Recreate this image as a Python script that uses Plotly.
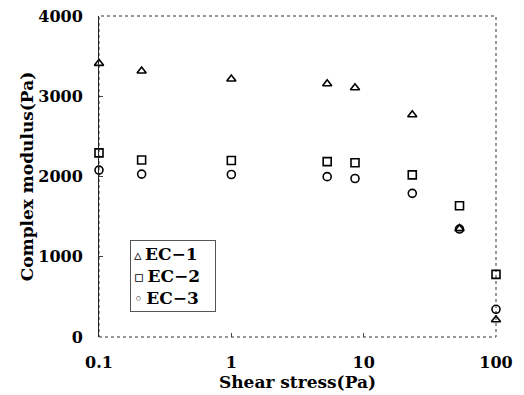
import plotly.graph_objects as go

shear_stress = [0.1, 0.21, 1.0, 5.3, 8.6, 23.3, 53, 100]
ec1 = [3410, 3315, 3215, 3155, 3105, 2770, 1350, 215]
ec2 = [2295, 2205, 2200, 2185, 2172, 2020, 1635, 780]
ec3 = [2080, 2030, 2025, 1998, 1975, 1790, 1345, 345]

series = [("EC\u22121", ec1, "triangle-up-open", "\u25B5"),
          ("EC\u22122", ec2, "square-open", "\u25AB"),
          ("EC\u22123", ec3, "circle-open", "\u25E6")]

FONT = "DejaVu Serif"

fig = go.Figure()
for name, vals, sym, glyph in series:
    fig.add_trace(go.Scatter(
        x=shear_stress, y=vals, mode="markers", name=name,
        marker=dict(symbol=sym, size=8, color="black",
                    line=dict(color="black", width=1.6)),
        cliponaxis=False, showlegend=False,
    ))

fig.update_layout(
    width=524, height=395,
    margin=dict(l=99, r=28, t=16, b=58),
    paper_bgcolor="white", plot_bgcolor="white",
    font=dict(family=FONT, color="black", size=16),
    showlegend=False,
    xaxis=dict(type="log", range=[-1, 2], automargin=False,
               tickvals=[0.1, 1, 10, 100], ticktext=["0.1", "1", "10", "100"],
               ticks="inside", ticklen=4, tickcolor="#444",
               ticklabelstandoff=14,
               showgrid=False, zeroline=False, showline=False,
               tickfont=dict(family=FONT, size=16, weight="bold"),
               title=dict(text="Shear stress(Pa)", standoff=2,
                          font=dict(family=FONT, size=17, weight="bold"))),
    yaxis=dict(range=[0, 4000], tickvals=[0, 1000, 2000, 3000, 4000],
               automargin=False,
               ticks="inside", ticklen=4, tickcolor="#444",
               ticklabelstandoff=12,
               showgrid=False, zeroline=False,
               showline=True, linecolor="#222", linewidth=1,
               tickfont=dict(family=FONT, size=16, weight="bold"),
               title=dict(text="Complex modulus(Pa)", standoff=0,
                          font=dict(family=FONT, size=17, weight="bold"))),
)

fig.add_shape(type="rect", xref="paper", yref="paper", x0=0, y0=0, x1=1, y1=1,
              line=dict(color="#333", width=1, dash="dot"), layer="below")

# legend box drawn as text annotation
legend_text = "<br>".join(
    f"<span style='font-size:15px'>{g}</span>\u2009{n}\u2002\u2009" for n, _, _, g in series)
fig.add_annotation(
    xref="paper", yref="paper", x=0.078, y=0.302, xanchor="left", yanchor="top",
    text=legend_text, showarrow=False, align="left",
    font=dict(family=FONT, size=17, weight="bold", color="black"),
    bordercolor="#555", borderwidth=1, borderpad=3, bgcolor="white",
)

fig.write_html("out.html", config={"displayModeBar": False},
               post_script="document.body.style.margin='0';document.body.style.overflow='hidden';")
